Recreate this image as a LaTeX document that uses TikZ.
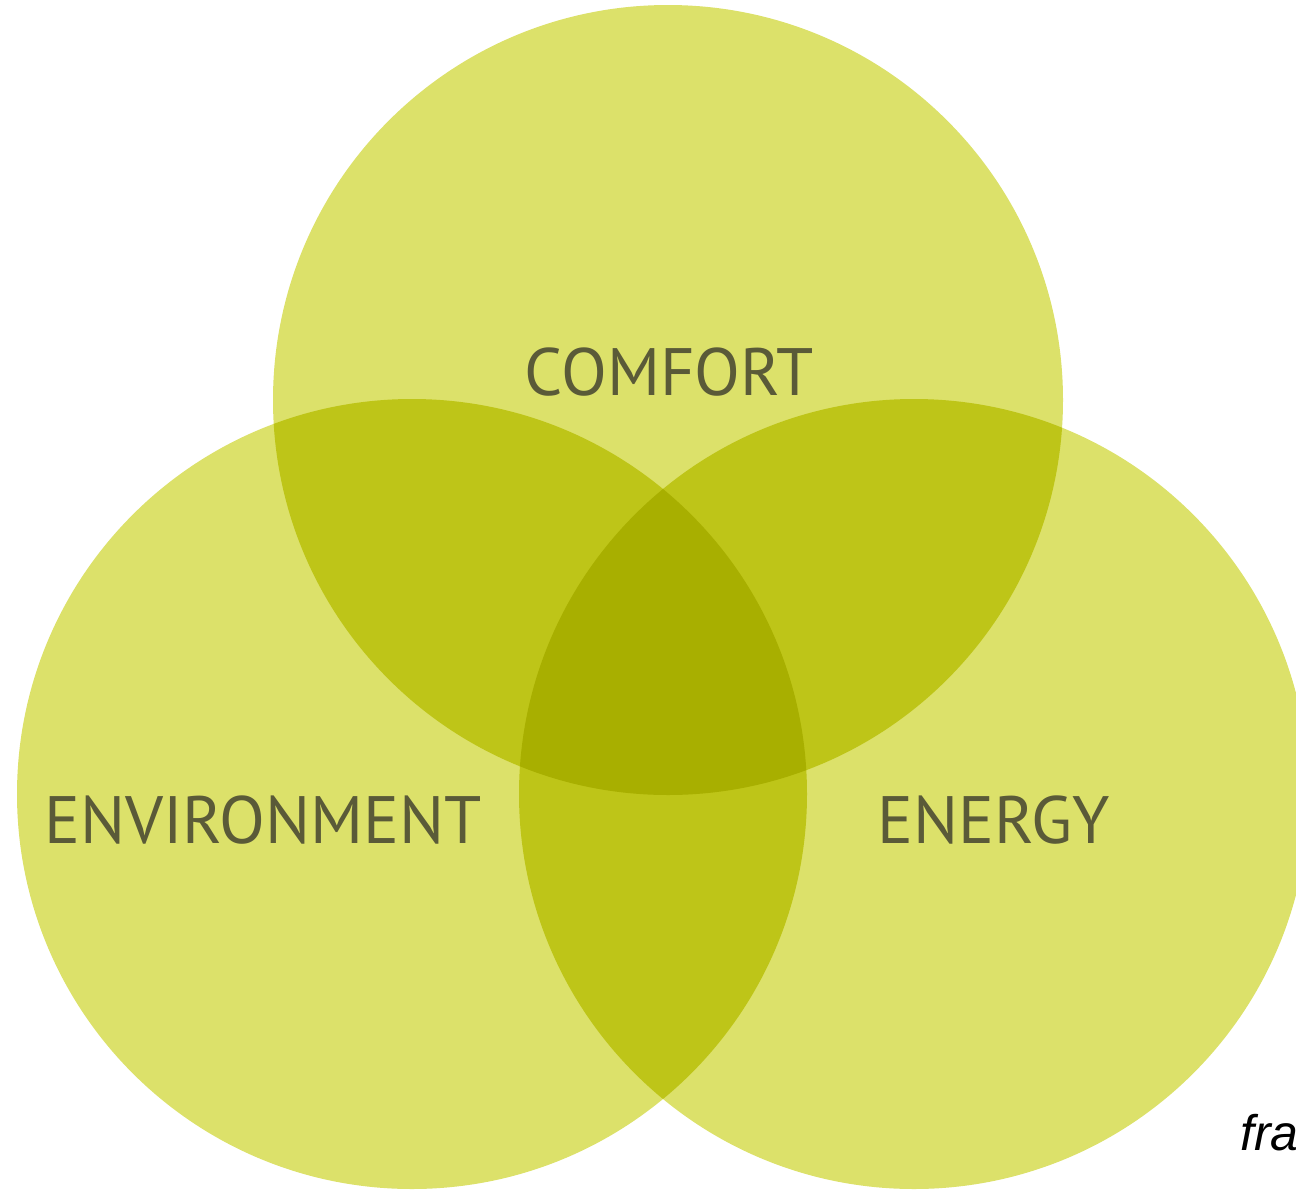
\documentclass[tikz,border=0pt]{standalone}
\usepackage{fontspec}
\setmainfont{PT Sans}
\setsansfont{Liberation Sans}
\definecolor{vennone}{RGB}{220,225,106}
\definecolor{venntwo}{RGB}{190,197,24}
\definecolor{vennthree}{RGB}{168,175,0}
\definecolor{labelgray}{RGB}{90,90,56}
\tikzset{
  setlabel/.style={text=labelgray, inner sep=0pt, font=\fontsize{67}{80}\selectfont},
}

\begin{document}
\begin{tikzpicture}[x=1pt,y=-1pt]

\useasboundingbox (0,0) rectangle (1296,1189);
\clip (0,0) rectangle (1296,1189);

\coordinate (top) at (668,400);
\coordinate (left) at (412,794);
\coordinate (right) at (914,794);

\foreach \c in {top,left,right}
    \fill[vennone] (\c) circle (395pt);

% two-way overlaps
\begin{scope}
    \clip (top) circle (395pt);
    \fill[venntwo] (left) circle (395pt);
    \fill[venntwo] (right) circle (395pt);
\end{scope}
\begin{scope}
    \clip (left) circle (395pt);
    \fill[venntwo] (right) circle (395pt);
\end{scope}

% centre
\begin{scope}
    \clip (top) circle (395pt);
    \clip (left) circle (395pt);
    \fill[vennthree] (right) circle (395pt);
\end{scope}

\node[setlabel, anchor=base] (comfort) at (669,395) {COMFORT};
\node[setlabel, anchor=base] (environment) at (263,843) {ENVIRONMENT};
\node[setlabel, anchor=base] (energy) at (994,843) {ENERGY};

\node[anchor=base west, inner sep=0pt, font=\sffamily\itshape\fontsize{50}{60}\selectfont] (fra) at (1240,1150) {fra};

\end{tikzpicture}
\end{document}
